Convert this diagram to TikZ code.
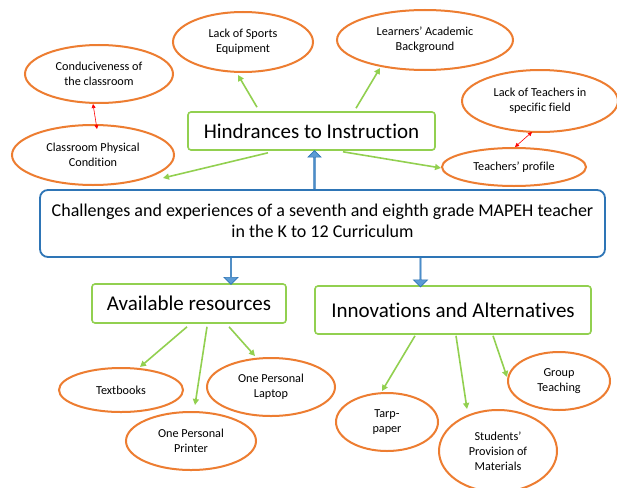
\documentclass[tikz,border=0pt]{standalone}
\usepackage{fontspec}
\setmainfont{Carlito}[Ligatures=NoCommon]
\usetikzlibrary{shapes.geometric,shapes.arrows,arrows.meta,calc}
\definecolor{orng}{HTML}{ED7D31}
\definecolor{grn}{HTML}{92D050}
\definecolor{bluebd}{HTML}{2E75B6}
\definecolor{bluefill}{HTML}{5B9BD5}
\tikzset{
  oval/.style={ellipse, draw=orng, line width=2pt, fill=white, align=center,
    inner sep=0pt, font=\fontsize{12.2}{15}\selectfont},
  topic/.style={draw=grn, line width=1.6pt, rounded corners=3pt, fill=white,
    inner sep=0pt, font=\fontsize{21}{24}\selectfont},
  link/.style={draw=grn, line width=1.6pt, -{Triangle[length=6pt,width=6pt]}},
  tie/.style={draw=red, line width=0.6pt,
    {Triangle[length=4pt,width=4pt]}-{Triangle[length=4pt,width=4pt]}},
  blockarr/.style={single arrow, draw=bluebd, fill=bluefill, line width=0.7pt,
    minimum width=14pt, single arrow head extend=3.5pt, inner sep=0pt,
    single arrow tip angle=90},
}
\begin{document}
\begin{tikzpicture}[x=1pt,y=-1pt]
\useasboundingbox[fill=white] (0,0) rectangle (617,487);

% central topic
\node[draw=bluebd, line width=1.8pt, rounded corners=8pt, fill=white,
  minimum width=565pt, minimum height=67pt, align=center, text depth=6pt,
  font=\fontsize{18}{21}\selectfont] (main) at (322.5,223.5)
  {Challenges and experiences of a seventh and eighth grade MAPEH teacher\\in the K to 12 Curriculum};

% three branches
\node[topic, minimum width=247pt, minimum height=38pt] (hind) at (311.5,131) {Hindrances to Instruction};
\node[topic, minimum width=194pt, minimum height=39pt] (avail) at (189,303.5) {Available resources};
\node[topic, minimum width=276pt, minimum height=48pt] (innov) at (453,310) {Innovations and Alternatives};

% hindrances
\node[oval, minimum width=148pt, minimum height=58pt] (conduc) at (99,74) {Conduciveness of\\the classroom};
\node[oval, minimum width=140pt, minimum height=60pt] (sports) at (243,42) {Lack of Sports\\Equipment};
\node[oval, minimum width=176pt, minimum height=60pt] (learn) at (425,40) {Learners’ Academic\\Background};
\node[oval, minimum width=156pt, minimum height=62pt] (lackt) at (540,101) {Lack of Teachers in\\specific field};
\node[oval, minimum width=162pt, minimum height=60pt] (room) at (93,155) {Classroom Physical\\Condition};
\node[oval, minimum width=144pt, minimum height=38pt] (prof) at (514,167) {Teachers’ profile};

% resources
\node[oval, minimum width=124pt, minimum height=44pt] (text) at (121,390) {Textbooks};
\node[oval, minimum width=130pt, minimum height=58pt] (print) at (191,441) {One Personal\\Printer};
\node[oval, minimum width=128pt, minimum height=58pt] (lap) at (271,387) {One Personal\\Laptop};

% innovations
\node[oval, minimum width=102pt, minimum height=58pt] (tarp) at (387,422) {Tarp-\\paper};
\node[oval, minimum width=118pt, minimum height=82pt] (stud) at (498,451) {Students’\\Provision of\\Materials};
\node[oval, minimum width=102pt, minimum height=58pt] (group) at (559,381) {Group\\Teaching};

% block arrows from the central topic
\node[blockarr, rotate=90, minimum height=38pt, minimum width=13pt, single arrow head extend=3pt] (up)
  at ($([xshift=3pt]main.north -| hind.south)!0.5!([xshift=3pt]hind.south)$) {};
\node[blockarr, rotate=-90, minimum height=27pt] (downa)
  at ($([xshift=42pt]main.south -| avail.north)!0.5!([xshift=42pt]avail.north)$) {};
\node[blockarr, rotate=-90, minimum height=29pt] (downb)
  at ($([xshift=-32.5pt]main.south -| innov.north)!0.5!([xshift=-32.5pt,yshift=-1pt]innov.north)$) {};

% hindrance links
\draw[link] ([xshift=-54.5pt,yshift=4pt]hind.north) -- ([xshift=-5pt,yshift=-2pt]sports.south);
\draw[link] ([xshift=44.5pt,yshift=3pt]hind.north) -- ([xshift=-45pt,yshift=3pt]learn.south);
\draw[link] ([xshift=-43.5pt,yshift=-2pt]hind.south) -- ([xshift=70pt,yshift=-23pt]room.center);
\draw[link] ([xshift=31.5pt,yshift=-1pt]hind.south) -- ([yshift=-1pt]prof.west);
\draw[tie] ([xshift=-6pt]conduc.south) -- ([xshift=4pt,yshift=-5pt]room.north);
\draw[tie] ([xshift=-8pt,yshift=1pt]lackt.south) -- ([xshift=1pt]prof.north);

% resource links
\draw[link] ([xshift=-2pt,yshift=-3pt]avail.south) -- ([xshift=19pt]text.north);
\draw[link] ([xshift=18pt,yshift=-3pt]avail.south) -- ([xshift=4pt,yshift=6pt]print.north);
\draw[link] ([xshift=40pt,yshift=-3pt]avail.south) -- ([xshift=-16pt,yshift=1pt]lap.north);

% innovation links
\draw[link] ([xshift=-38pt,yshift=-1pt]innov.south) -- ([xshift=-5pt,yshift=1pt]tarp.north);
\draw[link] ([xshift=3pt,yshift=-1pt]innov.south) -- ([xshift=-31pt]stud.north);
\draw[link] ([xshift=40pt,yshift=-1pt]innov.south) -- ([yshift=4pt]group.west);
\end{tikzpicture}
\end{document}
